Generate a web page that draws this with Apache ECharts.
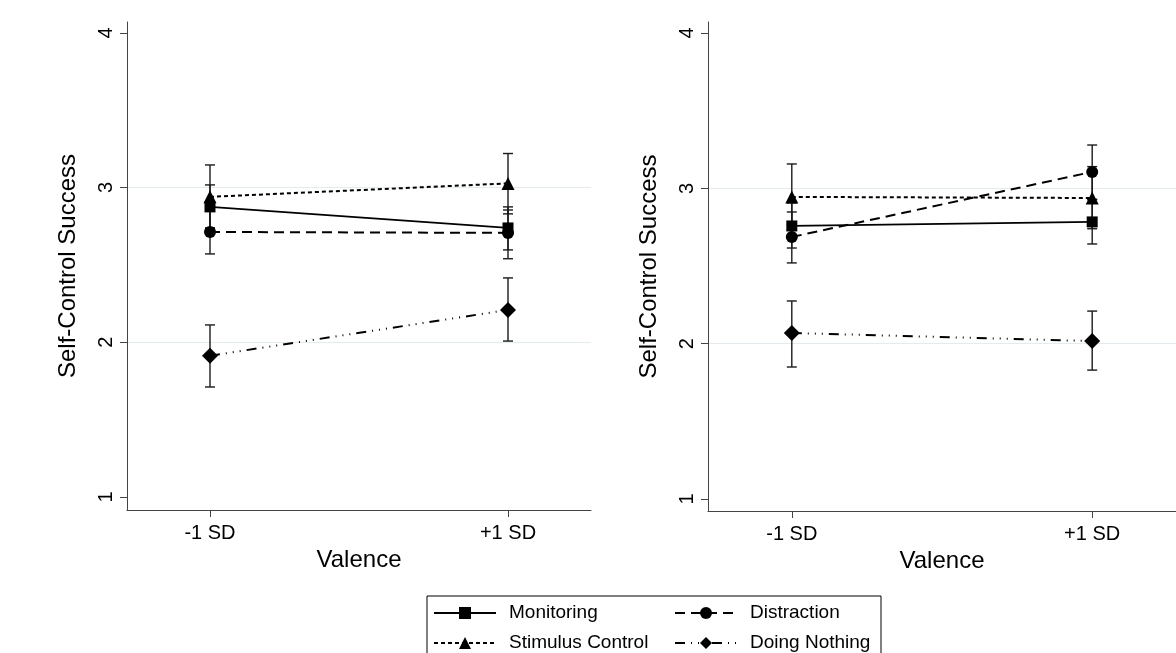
<!DOCTYPE html>
<html>
<head>
<meta charset="utf-8">
<script src="https://cdn.jsdelivr.net/npm/echarts@6/dist/echarts.min.js"></script>
<style>
  html, body { margin: 0; padding: 0; background: #fff; }
  #chart { width: 1176px; height: 653px; }
</style>
</head>
<body>
<div id="chart"></div>
<script>
// x positions and labels
var xValues = [-1, 1];
var xTickLabels = ['-1 SD', '+1 SD'];
var yTicks = [1, 2, 3, 4];
var gridValues = [2, 3];

// left panel: means, lower and upper CI
var leftMonitoring = [2.875, 2.739];
var leftMonitoringLo = [2.735, 2.597];
var leftMonitoringHi = [3.017, 2.875];
var leftStimulus = [2.94, 3.027];
var leftStimulusLo = [2.74, 2.83];
var leftStimulusHi = [3.146, 3.22];
var leftDistraction = [2.713, 2.707];
var leftDistractionLo = [2.571, 2.54];
var leftDistractionHi = [2.855, 2.855];
var leftNothing = [1.913, 2.209];
var leftNothingLo = [1.711, 2.008];
var leftNothingHi = [2.112, 2.416];

// right panel
var rightMonitoring = [2.758, 2.784];
var rightMonitoringLo = [2.616, 2.642];
var rightMonitoringHi = [2.906, 2.926];
var rightStimulus = [2.945, 2.938];
var rightStimulusLo = [2.735, 2.74];
var rightStimulusHi = [3.157, 3.14];
var rightDistraction = [2.687, 3.106];
var rightDistractionLo = [2.52, 2.93];
var rightDistractionHi = [2.848, 3.279];
var rightNothing = [2.069, 2.017];
var rightNothingLo = [1.85, 1.83];
var rightNothingHi = [2.275, 2.21];

var font = 'Liberation Sans, Arial, Helvetica, sans-serif';

function pairs(ys) {
    return xValues.map(function (x, i) { return [x, ys[i]]; });
}
function bars(lo, hi) {
    return xValues.map(function (x, i) { return [x, lo[i], hi[i]]; });
}

function renderBar(params, api) {
    var x = api.value(0);
    var top = api.coord([x, api.value(2)]);
    var bot = api.coord([x, api.value(1)]);
    var w = 5;
    var st = { stroke: '#1a1a1a', lineWidth: 1.4 };
    return {
        type: 'group',
        children: [
            { type: 'line', shape: { x1: top[0], y1: top[1], x2: bot[0], y2: bot[1] }, style: st },
            { type: 'line', shape: { x1: top[0] - w, y1: top[1], x2: top[0] + w, y2: top[1] }, style: st },
            { type: 'line', shape: { x1: bot[0] - w, y1: bot[1], x2: bot[0] + w, y2: bot[1] }, style: st }
        ]
    };
}

var styles = {
    'Monitoring': { symbol: 'rect', size: 11, line: { type: 'solid', width: 1.8 } },
    'Distraction': { symbol: 'circle', size: 12, line: { type: [10, 6], width: 2 } },
    'Stimulus Control': { symbol: 'triangle', size: 13, line: { type: [4, 3], width: 2 } },
    'Doing Nothing': { symbol: 'diamond', size: 16, line: { type: [10, 6, 1, 6, 1, 6, 1, 6], width: 2 } }
};

function panelSeries(idx, data) {
    var out = [];
    data.forEach(function (d) {
        out.push({
            type: 'custom',
            xAxisIndex: idx, yAxisIndex: idx,
            renderItem: renderBar,
            data: bars(d.lo, d.hi),
            z: 1, silent: true
        });
    });
    data.forEach(function (d, k) {
        var s = styles[d.name];
        var ser = {
            name: d.name,
            type: 'line',
            xAxisIndex: idx, yAxisIndex: idx,
            data: pairs(d.mean),
            symbol: s.symbol,
            symbolSize: s.size,
            showSymbol: true,
            itemStyle: { color: '#000' },
            lineStyle: { color: '#000', type: s.line.type, width: s.line.width },
            z: 3
        };
        if (k === 0) {
            ser.markLine = {
                silent: true, symbol: 'none', label: { show: false },
                lineStyle: { color: '#e3ebee', type: 'solid', width: 1.2 },
                data: gridValues.map(function (v) { return { yAxis: v }; }),
                z: 0
            };
        }
        out.push(ser);
    });
    return out;
}

function xAxis(idx, mn, mx) {
    return {
        type: 'value', gridIndex: idx, min: mn, max: mx,
        name: 'Valence', nameLocation: 'middle', nameGap: 36,
        nameTextStyle: { fontFamily: font, fontSize: 24, color: '#000' },
        axisLine: { show: true, onZero: false, lineStyle: { color: '#444', width: 1 } },
        axisTick: { show: true, length: 7, customValues: xValues, lineStyle: { color: '#444' } },
        axisLabel: {
            customValues: xValues, margin: 13,
            fontFamily: font, fontSize: 20, color: '#000',
            formatter: function (v) { return xTickLabels[xValues.indexOf(v)]; }
        },
        splitLine: { show: false }
    };
}

function yAxis(idx, mn, mx) {
    return {
        type: 'value', gridIndex: idx, min: mn, max: mx,
        name: 'Self-Control Success', nameLocation: 'middle', nameGap: 47,
        nameTextStyle: { fontFamily: font, fontSize: 24, color: '#000' },
        axisLine: { show: true, onZero: false, lineStyle: { color: '#444', width: 1 } },
        axisTick: { show: true, length: 7, customValues: yTicks, lineStyle: { color: '#444' } },
        axisLabel: {
            customValues: yTicks, rotate: 90, margin: 11,
            fontFamily: font, fontSize: 20, color: '#000'
        },
        splitLine: { show: false }
    };
}

var chart = echarts.init(document.getElementById('chart'));
chart.setOption({
    backgroundColor: '#fff',
    animation: false,
    grid: [
        { left: 127, top: 22, width: 464, height: 488 },
        { left: 708, top: 22, width: 469, height: 489 }
    ],
    xAxis: [xAxis(0, -1.557, 1.557), xAxis(1, -1.558, 1.558)],
    yAxis: [yAxis(0, 0.916, 4.07), yAxis(1, 0.923, 4.071)],
    legend: {
        left: 427, top: 596, width: 445,
        orient: 'horizontal',
        padding: [7, 6, 8, 6],
        borderColor: '#000', borderWidth: 1,
        itemWidth: 62, itemHeight: 15, itemGap: 10,
        textStyle: { fontFamily: font, fontSize: 19, color: '#000', lineHeight: 20, padding: [0, 0, 0, 8] },
        data: [
            { name: 'Monitoring', textStyle: { width: 155 } },
            { name: 'Distraction', textStyle: { width: 125 } },
            { name: 'Stimulus Control', textStyle: { width: 155 } },
            { name: 'Doing Nothing', textStyle: { width: 125 } }
        ]
    },
    series: panelSeries(0, [
        { name: 'Monitoring', mean: leftMonitoring, lo: leftMonitoringLo, hi: leftMonitoringHi },
        { name: 'Distraction', mean: leftDistraction, lo: leftDistractionLo, hi: leftDistractionHi },
        { name: 'Stimulus Control', mean: leftStimulus, lo: leftStimulusLo, hi: leftStimulusHi },
        { name: 'Doing Nothing', mean: leftNothing, lo: leftNothingLo, hi: leftNothingHi }
    ]).concat(panelSeries(1, [
        { name: 'Monitoring', mean: rightMonitoring, lo: rightMonitoringLo, hi: rightMonitoringHi },
        { name: 'Distraction', mean: rightDistraction, lo: rightDistractionLo, hi: rightDistractionHi },
        { name: 'Stimulus Control', mean: rightStimulus, lo: rightStimulusLo, hi: rightStimulusHi },
        { name: 'Doing Nothing', mean: rightNothing, lo: rightNothingLo, hi: rightNothingHi }
    ]))
});
</script>
</body>
</html>
